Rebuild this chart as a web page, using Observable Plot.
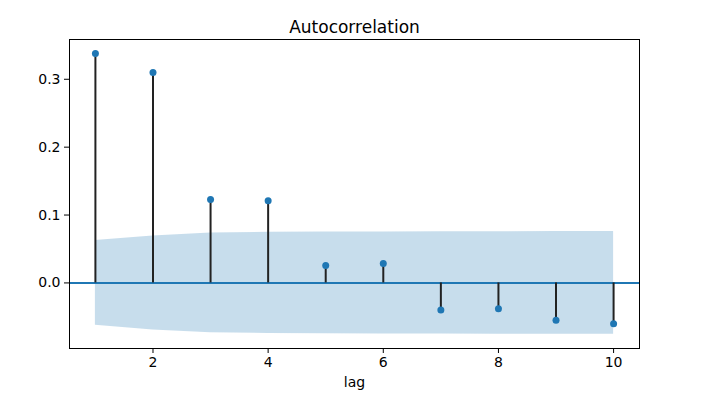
<!DOCTYPE html>
<html>
<head>
<meta charset="utf-8">
<script src="https://cdn.jsdelivr.net/npm/d3@7"></script>
<script src="https://cdn.jsdelivr.net/npm/@observablehq/plot@0.6"></script>
<style>
  html, body { margin: 0; padding: 0; background: #fff; }
</style>
</head>
<body>
<div id="chart"></div>
<script>
const lags = [1, 2, 3, 4, 5, 6, 7, 8, 9, 10];
const acfValues = [0.338, 0.310, 0.123, 0.121, 0.0255, 0.0285, -0.040, -0.038, -0.055, -0.060];
const confValues = [0.0624, 0.0692, 0.0735, 0.0745, 0.0750, 0.0752, 0.0754, 0.0755, 0.0756, 0.0757];
const xTicks = [2, 4, 6, 8, 10];
const yTicks = [0.0, 0.1, 0.2, 0.3];
const titleText = "Autocorrelation";
const xLabel = "lag";

const data = lags.map((lag, i) => ({lag, acf: acfValues[i], conf: confValues[i]}));

const blue = "#1f77b4";

const chart = Plot.plot({
  width: 701,
  height: 408,
  marginLeft: 69,
  marginRight: 62,
  marginTop: 39,
  marginBottom: 60,
  style: {fontFamily: "DejaVu Sans", fontSize: "14px", color: "#000", background: "#fff"},
  x: {domain: [0.55, 10.45]},
  y: {domain: [-0.0966, 0.3586]},
  marks: [
    Plot.areaY(data, {x: "lag", y1: d => -d.conf, y2: "conf", fill: blue, fillOpacity: 0.25}),
    Plot.ruleY([0], {stroke: blue, strokeWidth: 2}),
    Plot.ruleX(data, {x: "lag", y1: 0, y2: "acf", stroke: "#222", strokeWidth: 2}),
    Plot.dot(data, {x: "lag", y: "acf", r: 3.5, fill: blue}),
    Plot.frame({stroke: "#000", strokeWidth: 1}),
    Plot.axisY({ticks: yTicks, tickFormat: d3.format(".1f"), tickSize: 5, tickPadding: 4, label: null, fill: "#000"}),
    Plot.axisX({ticks: xTicks, tickFormat: d => String(d), tickSize: 5, tickPadding: 4, label: null, fill: "#000"}),
    Plot.text([xLabel], {frameAnchor: "bottom", lineAnchor: "bottom", dy: 38, text: d => d, fontSize: 14, fill: "#000"}),
    Plot.text([titleText], {frameAnchor: "top", lineAnchor: "bottom", dy: -7, text: d => d, fontSize: 17, fill: "#000"})
  ]
});

document.getElementById("chart").appendChild(chart);
</script>
</body>
</html>
